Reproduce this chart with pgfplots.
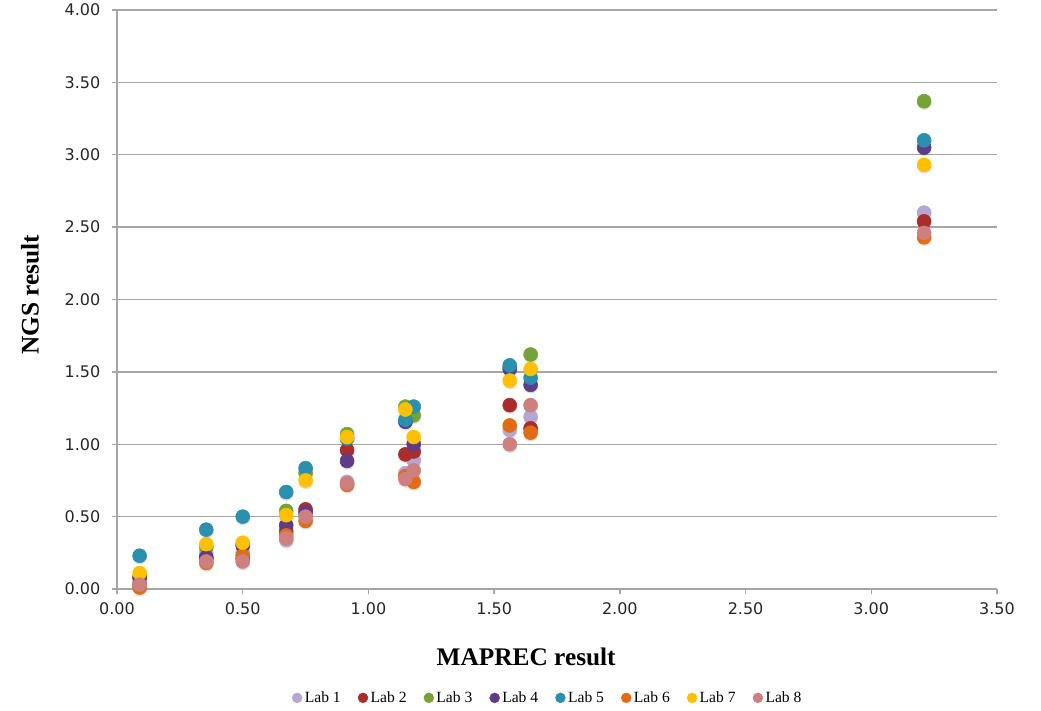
\documentclass[border=0pt]{standalone}
\usepackage{fontspec}
\setmainfont{Liberation Serif}
\newfontfamily\tickfont{DejaVu Sans}
\usepackage{pgfplots}
\usepackage{pgfplotstable}
\pgfplotsset{compat=1.18}
\definecolor{labA}{RGB}{180,167,210}
\definecolor{labB}{RGB}{170,45,45}
\definecolor{labC}{RGB}{119,162,58}
\definecolor{labD}{RGB}{94,60,135}
\definecolor{labE}{RGB}{43,143,174}
\definecolor{labF}{RGB}{226,108,20}
\definecolor{labG}{RGB}{255,192,0}
\definecolor{labH}{RGB}{206,128,128}
\definecolor{gridgray}{RGB}{166,166,166}
\pgfplotstableread{
x     l1   l2   l3   l4    l5    l6   l7   l8
0.090 0.05 0.03 0.08 0.08  0.23  0.01 0.11 0.03
0.355 0.25 0.21 0.29 0.22  0.41  0.18 0.31 0.19
0.500 0.25 0.21 0.31 0.30  0.50  0.23 0.32 0.19
0.673 0.34 0.40 0.54 0.44  0.67  0.37 0.51 0.35
0.750 0.51 0.55 0.80 0.53  0.835 0.47 0.75 0.50
0.915 0.74 0.96 1.07 0.885 1.04  0.72 1.05 0.73
1.147 0.80 0.93 1.26 1.155 1.17  0.78 1.24 0.76
1.180 0.89 0.95 1.20 1.00  1.26  0.74 1.05 0.82
1.562 1.10 1.27 1.53 1.52  1.545 1.13 1.44 1.00
1.645 1.19 1.11 1.62 1.41  1.46  1.08 1.52 1.27
3.210 2.60 2.54 3.37 3.05  3.10  2.43 2.93 2.46
}\datatable
\begin{document}
\begin{tikzpicture}
\useasboundingbox (-87.75pt,-90.75pt) rectangle (693pt,441.75pt);
\begin{axis}[
  at={(0,0)}, anchor=south west,
  scale only axis, width=660pt, height=434.25pt,
  xmin=0, xmax=3.5, ymin=0, ymax=4,
  xtick={0,0.5,1,1.5,2,2.5,3,3.5},
  ytick={0,0.5,1,1.5,2,2.5,3,3.5,4},
  axis x line=bottom, axis y line=left,
  axis line style={-, gridgray, line width=1pt},
  ymajorgrids, grid style={gridgray, line width=1pt},
  tick style={gridgray, line width=1pt}, tick align=outside, major tick length=4pt,
  ticklabel style={font=\tickfont\fontsize{12}{14}\selectfont, text=black!85},
  yticklabel style={xshift=-5pt},
  xticklabel style={yshift=-2.5pt},
  /pgf/number format/fixed, /pgf/number format/fixed zerofill,
  /pgf/number format/precision=2, /pgf/number format/assume math mode=true,
  xlabel={MAPREC result}, ylabel={NGS result},
  label style={font=\bfseries\fontsize{19}{22}\selectfont},
  xlabel style={at={(axis description cs:0.465,-0.1174)}, anchor=center},
  ylabel style={at={(axis description cs:-0.0989,0.508)}, anchor=center},
  legend columns=8,
  legend style={at={(axis description cs:0.49,-0.188)}, anchor=center, draw=none,
    font=\fontsize{11.7}{13}\selectfont,
    /tikz/every even column/.append style={column sep=11pt}},
  legend image code/.code={\draw[#1, mark size=3.7pt] plot coordinates {(0pt,0pt)};},
  every axis plot/.append style={only marks, mark=*, mark size=5.25pt},
]
\addplot[forget plot, black, mark size=5.4pt, yshift=-1.2pt, xshift=0.3pt, mark options={draw opacity=0, fill=black, fill opacity=0.12}] table[x=x,y=l1]{\datatable};
\addplot[forget plot, black, mark size=5.4pt, yshift=-1.2pt, xshift=0.3pt, mark options={draw opacity=0, fill=black, fill opacity=0.12}] table[x=x,y=l2]{\datatable};
\addplot[forget plot, black, mark size=5.4pt, yshift=-1.2pt, xshift=0.3pt, mark options={draw opacity=0, fill=black, fill opacity=0.12}] table[x=x,y=l3]{\datatable};
\addplot[forget plot, black, mark size=5.4pt, yshift=-1.2pt, xshift=0.3pt, mark options={draw opacity=0, fill=black, fill opacity=0.12}] table[x=x,y=l4]{\datatable};
\addplot[forget plot, black, mark size=5.4pt, yshift=-1.2pt, xshift=0.3pt, mark options={draw opacity=0, fill=black, fill opacity=0.12}] table[x=x,y=l5]{\datatable};
\addplot[forget plot, black, mark size=5.4pt, yshift=-1.2pt, xshift=0.3pt, mark options={draw opacity=0, fill=black, fill opacity=0.12}] table[x=x,y=l6]{\datatable};
\addplot[forget plot, black, mark size=5.4pt, yshift=-1.2pt, xshift=0.3pt, mark options={draw opacity=0, fill=black, fill opacity=0.12}] table[x=x,y=l7]{\datatable};
\addplot[forget plot, black, mark size=5.4pt, yshift=-1.2pt, xshift=0.3pt, mark options={draw opacity=0, fill=black, fill opacity=0.12}] table[x=x,y=l8]{\datatable};
\addplot[labA, mark options={draw=labA, fill=labA}] table[x=x,y=l1]{\datatable};
\addplot[labB, mark options={draw=labB, fill=labB}] table[x=x,y=l2]{\datatable};
\addplot[labC, mark options={draw=labC, fill=labC}] table[x=x,y=l3]{\datatable};
\addplot[labD, mark options={draw=labD, fill=labD}] table[x=x,y=l4]{\datatable};
\addplot[labE, mark options={draw=labE, fill=labE}] table[x=x,y=l5]{\datatable};
\addplot[labF, mark options={draw=labF, fill=labF}] table[x=x,y=l6]{\datatable};
\addplot[labG, mark options={draw=labG, fill=labG}] table[x=x,y=l7]{\datatable};
\addplot[labH, mark options={draw=labH, fill=labH}] table[x=x,y=l8]{\datatable};
\legend{Lab 1,Lab 2,Lab 3,Lab 4,Lab 5,Lab 6,Lab 7,Lab 8}
\end{axis}
\end{tikzpicture}
\end{document}
